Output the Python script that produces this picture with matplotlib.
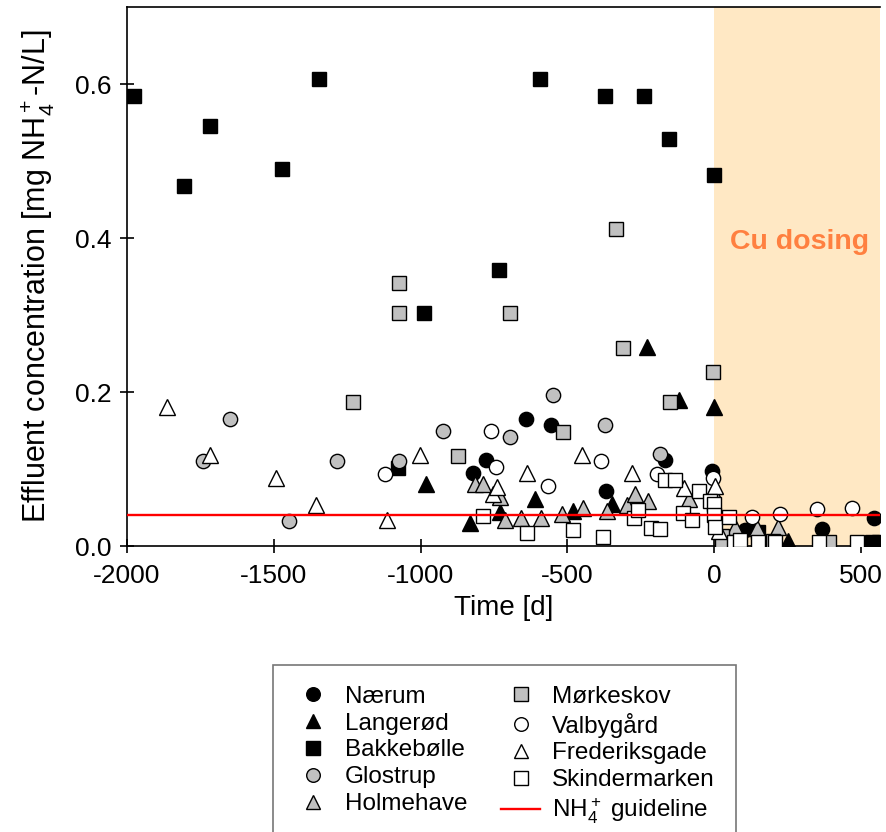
import numpy as np
import matplotlib
matplotlib.use("Agg")
import matplotlib.pyplot as plt

plt.rcParams['font.family'] = ['Liberation Sans', 'DejaVu Sans']
plt.rcParams['mathtext.fontset'] = 'custom'
plt.rcParams['mathtext.rm'] = 'Liberation Sans'
plt.rcParams['mathtext.it'] = 'Liberation Sans:italic'
plt.rcParams['mathtext.bf'] = 'Liberation Sans:bold'
plt.rcParams['axes.unicode_minus'] = False

# time [d] and effluent NH4+ [mg N/L]
naerum_t = [-821, -777, -641, -557, -368, -167, -8, 105, 369, 543]
naerum_c = [0.095, 0.112, 0.165, 0.157, 0.071, 0.112, 0.097, 0.021, 0.022, 0.037]

langerod_t = [-830, -730, -980, -609, -482, -348, -229, -118, -2, 253]
langerod_c = [0.030, 0.044, 0.080, 0.061, 0.046, 0.055, 0.259, 0.189, 0.181, 0.006]

bakke_t = [-1977, -1807, -1716, -1473, -1347, -1076, -988, -733, -593, -371,
           -239, -155, -1, 150, 538, 560]
bakke_c = [0.584, 0.467, 0.545, 0.490, 0.606, 0.101, 0.303, 0.358, 0.606, 0.584,
           0.584, 0.529, 0.482, 0.018, 0.005, 0.005]

glostrup_t = [-1741, -1648, -1447, -1284, -1073, -923, -696, -550, -373, -184]
glostrup_c = [0.111, 0.165, 0.032, 0.111, 0.111, 0.150, 0.142, 0.196, 0.157, 0.120]

holme_t = [-815, -786, -730, -711, -659, -589, -518, -448, -366, -298, -268,
           -224, -84, -5, 72, 145, 216]
holme_c = [0.080, 0.080, 0.064, 0.034, 0.037, 0.037, 0.042, 0.049, 0.046, 0.053, 0.068,
           0.059, 0.061, 0.072, 0.025, 0.024, 0.025]

morke_t = [-1231, -1075, -1074, -871, -694, -516, -334, -310, -150, -3, 26, 26, 202, 390]
morke_c = [0.187, 0.342, 0.303, 0.117, 0.303, 0.148, 0.412, 0.257, 0.187, 0.226,
           0.013, 0.003, 0.006, 0.005]

valby_t = [-1120, -761, -743, -565, -385, -195, -4, 128, 223, 350, 469]
valby_c = [0.094, 0.150, 0.103, 0.078, 0.110, 0.094, 0.088, 0.038, 0.042, 0.048, 0.049]

frederik_t = [-1864, -1718, -1493, -1357, -1116, -1002, -752, -741, -639, -451,
              -281, -102, 3, 15, 89]
frederik_c = [0.181, 0.118, 0.088, 0.053, 0.034, 0.118, 0.068, 0.077, 0.095, 0.118,
              0.095, 0.075, 0.078, 0.020, 0.006]

skinder_t = [-789, -637, -482, -377, -272, -258, -216, -186, -167, -133, -107, -76,
             -53, -14, -2, -2, 2, 49, 66, 89, 151, 208, 356, 487]
skinder_c = [0.039, 0.017, 0.021, 0.012, 0.036, 0.047, 0.023, 0.022, 0.086, 0.086,
             0.043, 0.034, 0.071, 0.058, 0.055, 0.040, 0.025, 0.038, 0.005, 0.008,
             0.005, 0.005, 0.005, 0.005]

guideline = 0.04
dosing_start = 0

grey = '#c0c0c0'
series = [
    ('Nærum', naerum_t, naerum_c, 'o', 'black', 10.3),
    ('Langerød', langerod_t, langerod_c, '^', 'black', 11),
    ('Bakkebølle', bakke_t, bakke_c, 's', 'black', 10.5),
    ('Glostrup', glostrup_t, glostrup_c, 'o', grey, 10.3),
    ('Holmehave', holme_t, holme_c, '^', grey, 11),
    ('Mørkeskov', morke_t, morke_c, 's', grey, 10.5),
    ('Valbygård', valby_t, valby_c, 'o', 'white', 10.3),
    ('Frederiksgade', frederik_t, frederik_c, '^', 'white', 11),
    ('Skindermarken', skinder_t, skinder_c, 's', 'white', 10.5),
]

fig = plt.figure(figsize=(8.86, 8.32), dpi=100)
ax = fig.add_axes([127/886, 1-546/832, (880-127)/886, (546-7)/832])

ax.set_xlim(-2000, 565)
ax.set_ylim(0, 0.7)
ax.axvspan(dosing_start, 600, color='#ffe8c4', lw=0, zorder=0)

handles = []
for name, t, c, m, col, ms in series:
    h, = ax.plot(t, c, ls='none', marker=m, ms=ms, mfc=col, mec='black', mew=1.0,
                 label=name, zorder=3)
    handles.append(h)

gl, = ax.plot([-2000, 600], [guideline, guideline], color='red', lw=1.7, zorder=4,
              label='NH$_4^+$ guideline')
handles.append(gl)

ax.text(292, 0.395, 'Cu dosing', color='#ff8040', fontsize=20.5, fontweight='bold',
        ha='center', va='center')

ax.set_xticks([-2000, -1500, -1000, -500, 0, 500])
ax.set_yticks([0.0, 0.2, 0.4, 0.6])
ax.set_yticklabels(['0.0', '0.2', '0.4', '0.6'])
ax.tick_params(direction='inout', length=10, width=1.2, labelsize=19)
ax.tick_params(axis='y', pad=6)
ax.tick_params(axis='x', pad=8)
ax.spines['right'].set_visible(False)
for s in ['left', 'bottom', 'top']:
    ax.spines[s].set_linewidth(1.2)

ax.set_xlabel('Time [d]', fontsize=20, labelpad=5)
ax.set_ylabel('Effluent concentration [mg NH$_4^+$-N/L]', fontsize=22, labelpad=14)

leg = fig.legend(handles=handles, ncol=2, loc='upper left',
                 bbox_to_anchor=(273/886, 1-665/832), fontsize=17.5,
                 frameon=True, fancybox=False, edgecolor='#555555',
                 handlelength=1.6, handletextpad=0.5, columnspacing=1.4,
                 labelspacing=0.2, borderpad=0.85, borderaxespad=0,
                 markerscale=0.95)
leg.get_frame().set_linewidth(1.2)

fig.savefig('out.png', dpi=100)
